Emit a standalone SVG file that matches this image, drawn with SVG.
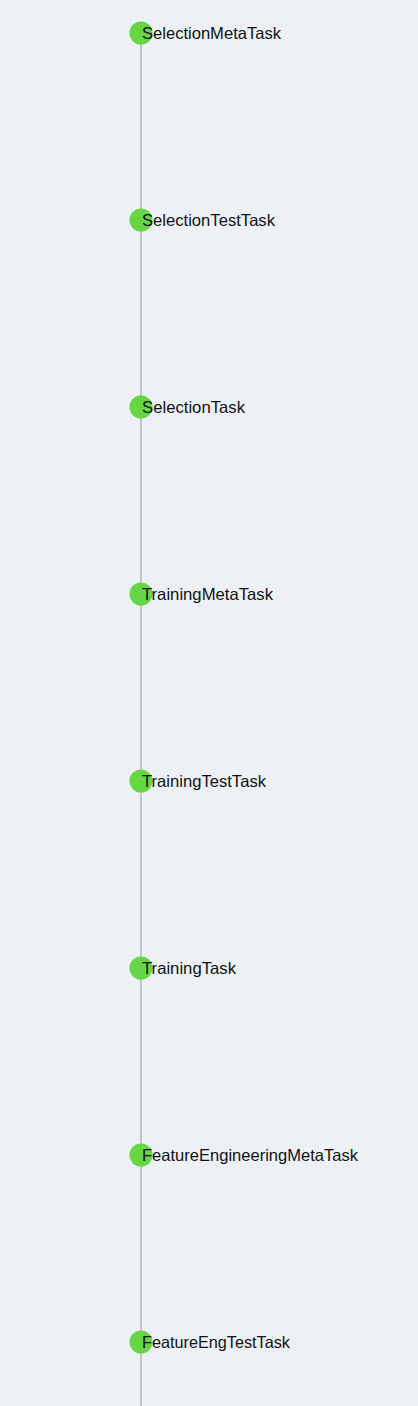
<svg xmlns="http://www.w3.org/2000/svg" width="418" height="1406" viewBox="0 0 418 1406">
<style>
.dot{fill:#66d644}
.lbl{font-family:"Liberation Sans",Arial,sans-serif;font-size:16.5px;fill:#111111}
.conn{stroke:#c3c5c9;stroke-width:2;fill:none}
</style>
<rect width="418" height="1406" fill="#edf1f6"/>
<g id="connectors">
<line class="conn" x1="141" y1="33" x2="141" y2="1406"/>
</g>
<g id="n1"><circle class="dot" cx="141" cy="33" r="11.5"/><text class="lbl" x="142" y="39" textLength="139" lengthAdjust="spacingAndGlyphs">SelectionMetaTask</text></g>
<g id="n2"><circle class="dot" cx="141" cy="220" r="11.5"/><text class="lbl" x="142" y="226" textLength="133" lengthAdjust="spacingAndGlyphs">SelectionTestTask</text></g>
<g id="n3"><circle class="dot" cx="141" cy="407" r="11.5"/><text class="lbl" x="142" y="413" textLength="103" lengthAdjust="spacingAndGlyphs">SelectionTask</text></g>
<g id="n4"><circle class="dot" cx="141" cy="594" r="11.5"/><text class="lbl" x="142" y="600" textLength="131" lengthAdjust="spacingAndGlyphs">TrainingMetaTask</text></g>
<g id="n5"><circle class="dot" cx="141" cy="781" r="11.5"/><text class="lbl" x="142" y="787" textLength="124" lengthAdjust="spacingAndGlyphs">TrainingTestTask</text></g>
<g id="n6"><circle class="dot" cx="141" cy="968" r="11.5"/><text class="lbl" x="142" y="974" textLength="94" lengthAdjust="spacingAndGlyphs">TrainingTask</text></g>
<g id="n7"><circle class="dot" cx="141" cy="1155" r="11.5"/><text class="lbl" x="142" y="1161" textLength="216" lengthAdjust="spacingAndGlyphs">FeatureEngineeringMetaTask</text></g>
<g id="n8"><circle class="dot" cx="141" cy="1342" r="11.5"/><text class="lbl" x="142" y="1348" textLength="148" lengthAdjust="spacingAndGlyphs">FeatureEngTestTask</text></g>
</svg>
